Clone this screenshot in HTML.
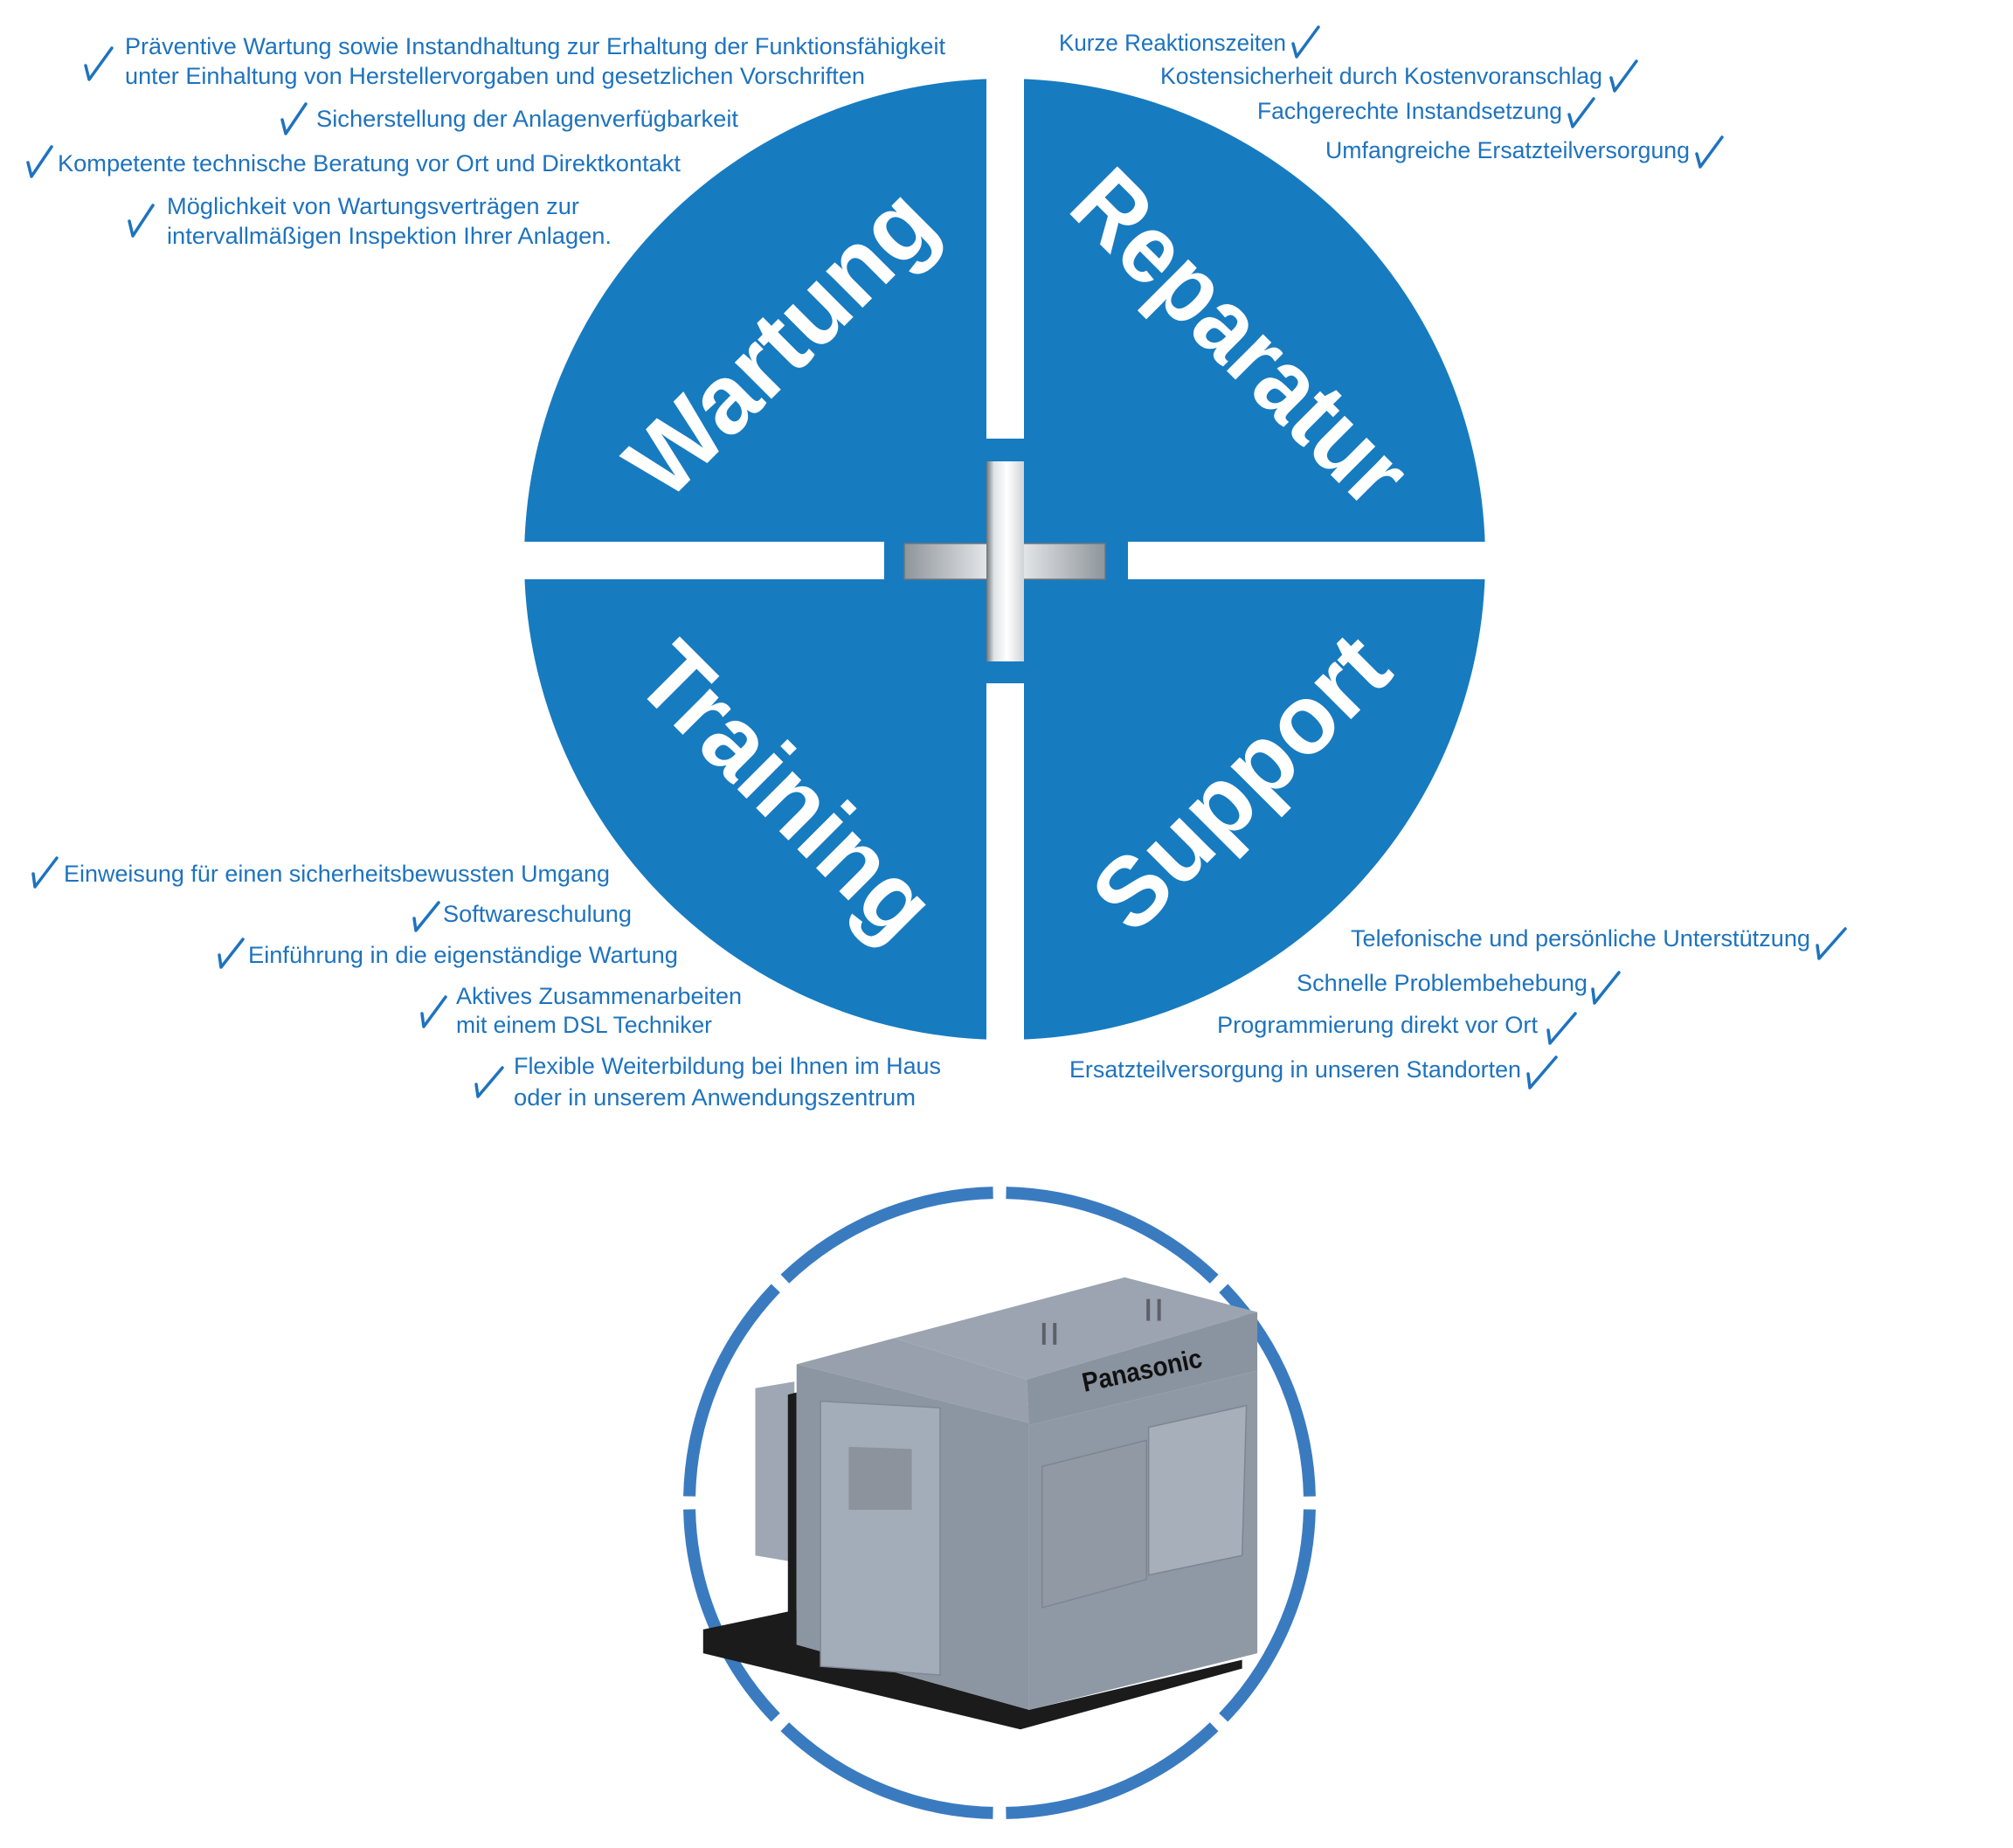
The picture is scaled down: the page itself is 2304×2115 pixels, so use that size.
<!DOCTYPE html>
<html><head><meta charset="utf-8"><style>html,body{margin:0;padding:0;background:#fff}svg{display:block}</style></head>
<body>
<svg width="2304" height="2115" viewBox="0 0 2304 2115" xmlns="http://www.w3.org/2000/svg">
<defs>
<linearGradient id="gh" x1="0" y1="0" x2="1" y2="0">
<stop offset="0" stop-color="#8e959c"/><stop offset="0.5" stop-color="#f6f7f8"/><stop offset="1" stop-color="#8e959c"/></linearGradient>
<linearGradient id="gv" x1="0" y1="0" x2="1" y2="0">
<stop offset="0" stop-color="#6d7378"/><stop offset="0.2" stop-color="#dfe2e4"/><stop offset="0.55" stop-color="#ffffff"/><stop offset="1" stop-color="#d0d3d6"/></linearGradient>
</defs>
<circle cx="1150" cy="640" r="550" fill="#177bc0"/>
<rect x="590" y="620" width="422" height="43" fill="#fff"/>
<rect x="1291" y="620" width="420" height="43" fill="#fff"/>
<rect x="1129" y="80" width="43" height="422" fill="#fff"/>
<rect x="1129" y="782" width="43" height="420" fill="#fff"/>
<rect x="1035" y="622" width="230" height="41" fill="url(#gh)" stroke="#6f757a" stroke-width="1.5"/>
<rect x="1129" y="528" width="43" height="229" fill="url(#gv)"/>
<g font-family="Liberation Sans, sans-serif" font-weight="bold" fill="#fff" font-size="112" text-anchor="middle" dominant-baseline="central">
<text transform="translate(893,392) rotate(-45)" textLength="445" lengthAdjust="spacingAndGlyphs">Wartung</text>
<text transform="translate(1420,386) rotate(45)" textLength="490" lengthAdjust="spacingAndGlyphs">Reparatur</text>
<text transform="translate(900,905) rotate(45)" textLength="425" lengthAdjust="spacingAndGlyphs">Training</text>
<text transform="translate(1420,895) rotate(-45)" textLength="425" lengthAdjust="spacingAndGlyphs">Support</text>
</g>
<g font-family="Liberation Sans, sans-serif" font-size="27" fill="#1e73be">
<text x="143" y="62" textLength="939" lengthAdjust="spacingAndGlyphs">Präventive Wartung sowie Instandhaltung zur Erhaltung der Funktionsfähigkeit</text>
<text x="143" y="96" textLength="847" lengthAdjust="spacingAndGlyphs">unter Einhaltung von Herstellervorgaben und gesetzlichen Vorschriften</text>
<text x="362" y="145" textLength="483" lengthAdjust="spacingAndGlyphs">Sicherstellung der Anlagenverfügbarkeit</text>
<text x="66" y="196" textLength="713" lengthAdjust="spacingAndGlyphs">Kompetente technische Beratung vor Ort und Direktkontakt</text>
<text x="191" y="245" textLength="472" lengthAdjust="spacingAndGlyphs">Möglichkeit von Wartungsverträgen zur</text>
<text x="191" y="279" textLength="509" lengthAdjust="spacingAndGlyphs">intervallmäßigen Inspektion Ihrer Anlagen.</text>
<text x="1212" y="58" textLength="260" lengthAdjust="spacingAndGlyphs">Kurze Reaktionszeiten</text>
<text x="1328" y="96" textLength="506" lengthAdjust="spacingAndGlyphs">Kostensicherheit durch Kostenvoranschlag</text>
<text x="1439" y="136" textLength="349" lengthAdjust="spacingAndGlyphs">Fachgerechte Instandsetzung</text>
<text x="1517" y="181" textLength="417" lengthAdjust="spacingAndGlyphs">Umfangreiche Ersatzteilversorgung</text>
<text x="73" y="1009" textLength="625" lengthAdjust="spacingAndGlyphs">Einweisung für einen sicherheitsbewussten Umgang</text>
<text x="507" y="1055" textLength="216" lengthAdjust="spacingAndGlyphs">Softwareschulung</text>
<text x="284" y="1102" textLength="492" lengthAdjust="spacingAndGlyphs">Einführung in die eigenständige Wartung</text>
<text x="522" y="1149" textLength="327" lengthAdjust="spacingAndGlyphs">Aktives Zusammenarbeiten</text>
<text x="522" y="1182" textLength="293" lengthAdjust="spacingAndGlyphs">mit einem DSL Techniker</text>
<text x="588" y="1229" textLength="489" lengthAdjust="spacingAndGlyphs">Flexible Weiterbildung bei Ihnen im Haus</text>
<text x="588" y="1265" textLength="460" lengthAdjust="spacingAndGlyphs">oder in unserem Anwendungszentrum</text>
<text x="1546" y="1083" textLength="526" lengthAdjust="spacingAndGlyphs">Telefonische und persönliche Unterstützung</text>
<text x="1484" y="1134" textLength="333" lengthAdjust="spacingAndGlyphs">Schnelle Problembehebung</text>
<text x="1393" y="1182" textLength="367" lengthAdjust="spacingAndGlyphs">Programmierung direkt vor Ort</text>
<text x="1224" y="1233" textLength="517" lengthAdjust="spacingAndGlyphs">Ersatzteilversorgung in unseren Standorten</text>
</g>
<g fill="none" stroke="#1e73be" stroke-width="3.5" stroke-linecap="round" stroke-linejoin="round">
<polyline points="98,75 102,91 128,55"/>
<polyline points="323,137 327,153 350,119"/>
<polyline points="32,186 36,202 59,168"/>
<polyline points="148,253 152,270 175,235"/>
<polyline points="1480,50 1484,65 1509,31"/>
<polyline points="1844,89 1848,104 1873,70"/>
<polyline points="1796,131 1800,145 1824,113"/>
<polyline points="1942,176 1946,191 1971,157"/>
<polyline points="38,1000 40,1015 65,982"/>
<polyline points="474,1051 476,1065 502,1033"/>
<polyline points="251,1093 253,1107 278,1075"/>
<polyline points="483,1160 485,1175 510,1141"/>
<polyline points="545,1241 547,1255 575,1222"/>
<polyline points="2080,1082 2082,1097 2112,1063"/>
<polyline points="1823,1132 1825,1148 1853,1113"/>
<polyline points="1772,1179 1774,1194 1803,1160"/>
<polyline points="1749,1229 1751,1245 1781,1210"/>
</g>
<circle cx="1144" cy="1720" r="355" fill="none" stroke="#3a7bc0" stroke-width="14" stroke-dasharray="263.8 15" stroke-dashoffset="-7.5"/>
<g transform="translate(760,1330) scale(0.4975)">
<polygon points="90,1075 305,1030 305,1110 840,1260 1330,1145 1330,1165 820,1305 90,1130" fill="#1b1b1b"/>
<polygon points="210,520 300,505 300,920 210,905" fill="#9ea7b3"/>
<polygon points="285,535 305,530 305,1110 260,1060 285,1040" fill="#1b1b1b"/>
<polygon points="305,465 840,600 840,1260 305,1110" fill="#8c95a2"/>
<polygon points="305,465 530,405 835,500 840,600" fill="#97a0ac"/>
<polygon points="530,405 1060,265 1365,345 835,500" fill="#9ba4b0"/>
<polygon points="835,500 1365,345 1365,480 840,605" fill="#8a93a0"/>
<polygon points="840,605 1365,480 1365,1130 840,1260" fill="#8f98a5"/>
<polygon points="870,700 1110,640 1110,960 870,1025" fill="#9199a5" stroke="#7d8591" stroke-width="3"/>
<polygon points="1115,610 1340,560 1330,905 1115,950" fill="#a7afba" stroke="#7d8591" stroke-width="3"/>
<polygon points="360,550 635,565 635,1180 360,1160" fill="#a3acb9" stroke="#7f8894" stroke-width="3"/>
<polygon points="425,655 570,660 570,800 425,800" fill="#8c939d"/>
<rect x="870" y="370" width="8" height="50" fill="#5b6069"/><rect x="895" y="370" width="8" height="50" fill="#5b6069"/>
<rect x="1110" y="315" width="8" height="50" fill="#5b6069"/><rect x="1135" y="315" width="8" height="50" fill="#5b6069"/>
<text x="1100" y="500" transform="rotate(-12 1100 480)" font-family="Liberation Sans, sans-serif" font-weight="bold" font-size="62" fill="#111" text-anchor="middle" textLength="280" lengthAdjust="spacingAndGlyphs">Panasonic</text>
</g>
</svg>
</body></html>
